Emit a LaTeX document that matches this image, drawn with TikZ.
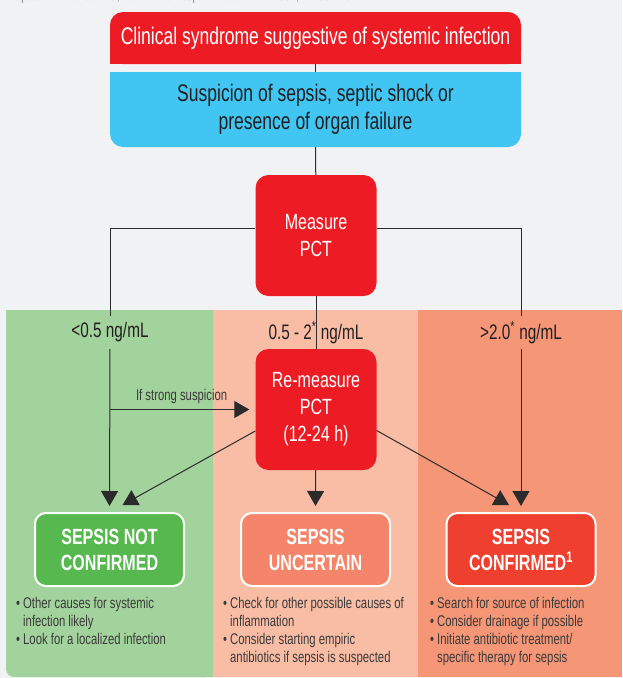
\documentclass[tikz,border=0pt]{standalone}
\usepackage{fontspec}
\setmainfont{Liberation Sans}[FakeStretch=0.73]
\usetikzlibrary{arrows.meta}
\definecolor{pagegray}{HTML}{F1F2F4}
\definecolor{pctred}{HTML}{ED1C24}
\definecolor{skyblue}{HTML}{41C6F3}
\definecolor{bandgreen}{HTML}{A3D39C}
\definecolor{bandpeach}{HTML}{F9BDA6}
\definecolor{bandsalmon}{HTML}{F59677}
\definecolor{okgreen}{HTML}{56B84E}
\definecolor{maybeorange}{HTML}{F4856A}
\definecolor{yesred}{HTML}{EE3F2F}
\definecolor{textdark}{HTML}{231F20}
\definecolor{bulletgray}{HTML}{3A3A3A}
\definecolor{linegray}{HTML}{2B2B2B}
\newcommand{\pctbullet}{\makebox[7pt][l]{\textbullet}}
\newcommand{\pctindent}{\hspace*{7pt}}
\begin{document}
\begin{tikzpicture}[x=1pt,y=-1pt,
        box/.style={rectangle,rounded corners=13pt,fill=pctred,text=white,
            inner sep=0pt,minimum width=121pt,minimum height=121pt,align=center,
            font=\fontsize{22}{27}\selectfont},
        outcome/.style={rectangle,rounded corners=11pt,draw=white,line width=2pt,
            text=white,inner sep=0pt,minimum width=149pt,minimum height=73pt,
            align=center,font=\fontsize{22}{26}\selectfont\bfseries},
        level/.style={inner sep=0pt,minimum height=33pt,text=textdark,
            font=\fontsize{21}{24}\selectfont},
        bullets/.style={anchor=north west,inner sep=0pt,align=left,text=bulletgray,
            font=\fontsize{15.5}{18}\selectfont},
        conn/.style={draw=linegray,line width=1pt},
        arr/.style={-{Triangle[width=17pt,length=15pt]}}]
\useasboundingbox (0,0) rectangle (622,678);
\fill[pagegray] (0,0) rectangle (622,678);

\node[anchor=base west,inner sep=0pt,text=gray,font=\fontsize{14}{16}\selectfont] (source) at (3,0.5)
    {Adapted from Harbarth S, et al. Am J Respir Crit Care Med 2001;164:396-402};

\fill[bandgreen,rounded corners=8pt] (6,310) rectangle (213,677);
\fill[bandgreen] (6,310) rectangle (30,340);
\fill[bandgreen] (190,310) rectangle (213,677);
\fill[bandpeach] (213,310) rectangle (418,677);
\fill[bandsalmon] (418,310) rectangle (622,677);

\node[rectangle,rounded corners=13pt,fill=pctred,text=white,inner sep=0pt,
    minimum width=411pt,minimum height=52pt,font=\fontsize{24}{28}\selectfont]
    (clinical) at (315.5,38) {Clinical syndrome suggestive of systemic infection};
\fill[pctred] (clinical.south west) rectangle ++(15,-15);
\fill[pctred] (clinical.south east) rectangle ++(-15,-15);

\node[rectangle,rounded corners=13pt,fill=skyblue,text=textdark,inner sep=0pt,align=center,
    minimum width=411pt,minimum height=75pt,font=\fontsize{24}{28}\selectfont]
    (suspicion) at (315.5,109.5) {Suspicion of sepsis, septic shock or\\presence of organ failure};
\fill[skyblue] (suspicion.north west) rectangle ++(15,15);
\fill[skyblue] (suspicion.north east) rectangle ++(-15,15);

\node[box] (measure) at (316,235.5) {Measure\\PCT};
\node[box] (remeasure) at (316,409.5) {\raisebox{-3pt}{Re-measure}\\\raisebox{-3pt}{PCT}\\\raisebox{-3pt}{(12-24 h)}};

\node[level] (lowlbl) at (110,332.5) {<0.5 ng/mL};
\node[level] (midlbl) at (316,332.5) {0.5 - 2\textsuperscript{*} ng/mL};
\node[level] (highlbl) at (521,332.5) {>2.0\textsuperscript{*} ng/mL};

\node[outcome,fill=okgreen] (notconf) at (109.5,549.5) {SEPSIS NOT\\CONFIRMED};
\node[outcome,fill=maybeorange] (uncertain) at (315.5,549.5) {SEPSIS\\UNCERTAIN};
\node[outcome,fill=yesred] (confirmed) at (521,549.5) {SEPSIS\\CONFIRMED\textsuperscript{1}};

\node[bullets] (notconftxt) at (16,597) {\pctbullet Other causes for systemic\\
    \pctindent infection likely\\ \pctbullet Look for a localized infection};
\node[bullets] (uncertaintxt) at (223,597) {\pctbullet Check for other possible causes of\\
    \pctindent inflammation\\ \pctbullet Consider starting empiric\\
    \pctindent antibiotics if sepsis is suspected};
\node[bullets] (confirmedtxt) at (430,597) {\pctbullet Search for source of infection\\
    \pctbullet Consider drainage if possible\\ \pctbullet Initiate antibiotic treatment/\\
    \pctindent specific therapy for sepsis};

\draw[conn] (clinical) -- (suspicion);
\draw[conn] (suspicion) -- (measure);
\draw[conn] ([yshift=7pt]measure.west) -| (lowlbl.north);
\draw[conn] ([yshift=7pt]measure.east) -| (highlbl.north);
\draw[conn] (measure) -- (remeasure);

\coordinate (strong) at (lowlbl.south |- remeasure.west);
\draw[conn,arr] (lowlbl.south) -- ([yshift=6pt]notconf.north);
\draw[conn,arr] (strong) -- ([xshift=-6pt]remeasure.west)
    node[midway,above=5pt,xshift=2pt,inner sep=0pt,text=bulletgray,
    font=\fontsize{15.5}{17}\selectfont] (stronglbl) {If strong suspicion};
\draw[conn,arr] ([yshift=-21.5pt]remeasure.west) -- ([xshift=13pt,yshift=7pt]notconf.north);
\draw[conn,arr] (remeasure) -- ([yshift=6pt]uncertain.north);
\draw[conn,arr] ([yshift=-21pt]remeasure.east) -- ([xshift=-12pt,yshift=7pt]confirmed.north);
\draw[conn,arr] (highlbl.south) -- ([yshift=6pt]confirmed.north);
\end{tikzpicture}
\end{document}
